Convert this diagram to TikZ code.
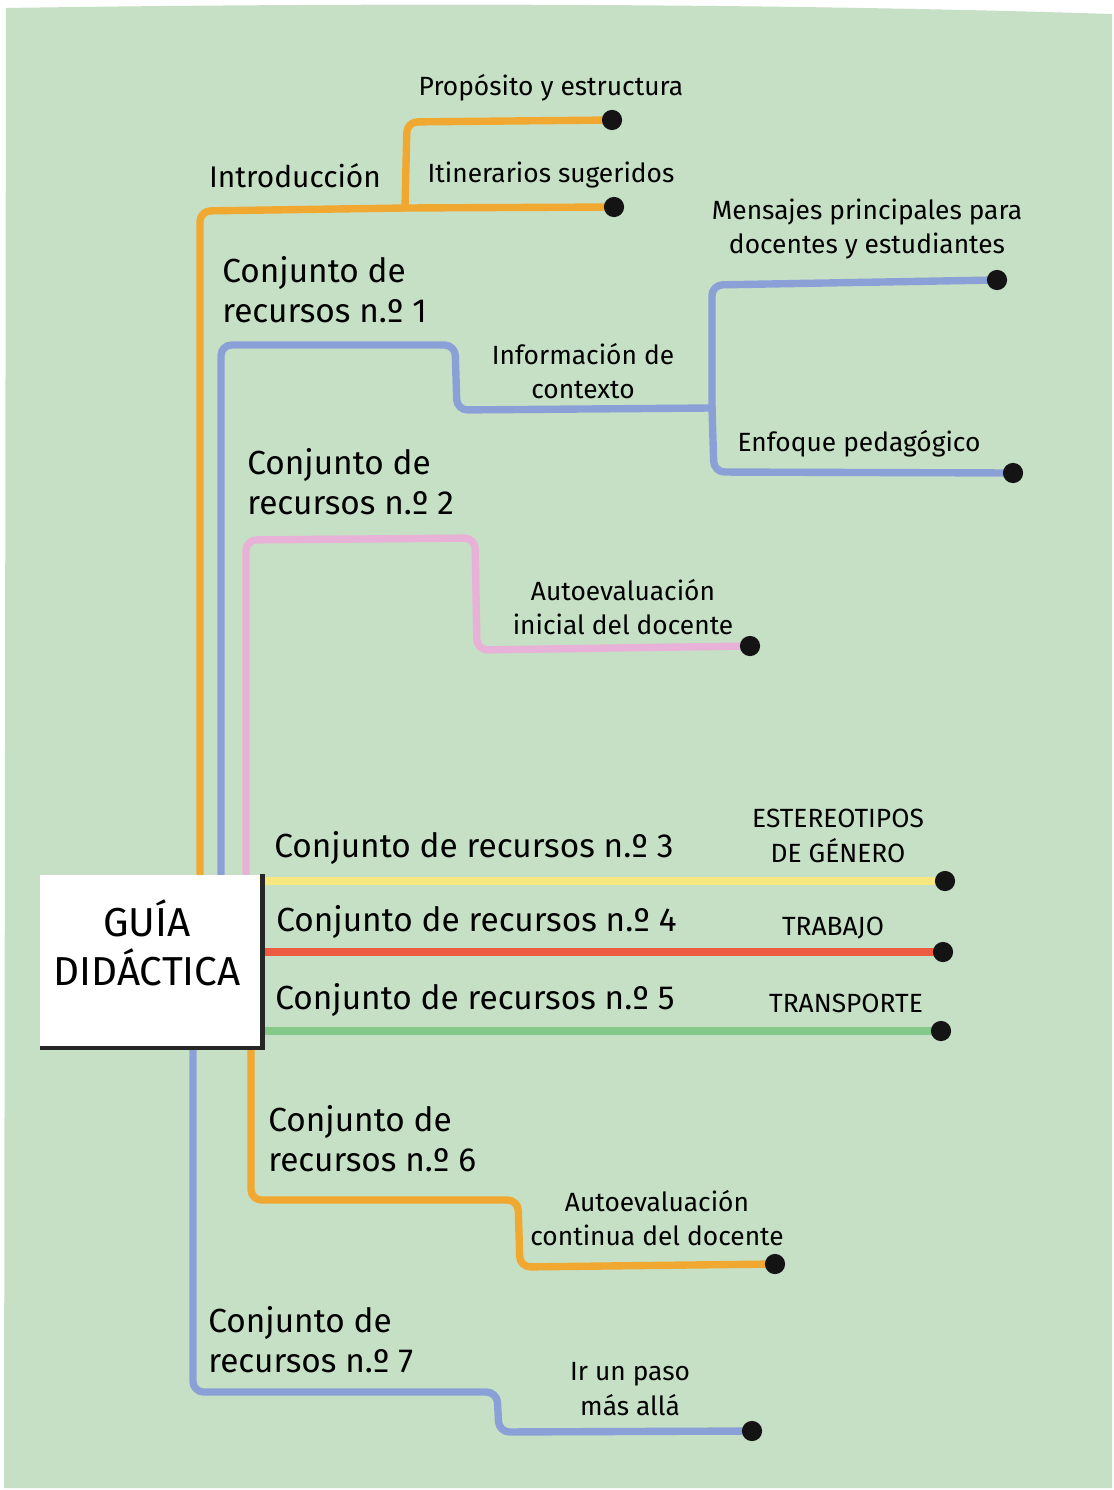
\documentclass[tikz,border=0pt]{standalone}
\usepackage{fontspec}
\setmainfont{Fira Sans}
\usepackage{tikz}
\usetikzlibrary{positioning}

\definecolor{sheetgreen}{HTML}{C6E0C5}
\definecolor{penorange}{HTML}{F0A830}
\definecolor{penblue}{HTML}{8CA0D8}
\definecolor{penpink}{HTML}{E8B2D8}
\definecolor{penyellow}{HTML}{F6E87E}
\definecolor{penred}{HTML}{EE5A40}
\definecolor{pengreen}{HTML}{84C88A}

\pgfdeclarelayer{paper}
\pgfdeclarelayer{lines}
\pgfsetlayers{paper,lines,main}

\tikzset{
  pen/.style={line width=4.2pt, line cap=round, line join=round, rounded corners=6pt},
  dot/.style={circle, fill=black!92, inner sep=0pt, minimum size=11.5pt},
  lab/.style={font=\fontsize{15}{19.5}\selectfont, align=center, inner sep=0pt},
  biglab/.style={font=\fontsize{19}{22.8}\selectfont, align=left, inner sep=0pt, anchor=west},
  guiabox/.style={fill=white, minimum width=4.44cm, minimum height=3.46cm, inner sep=0pt}
}

\begin{document}
\begin{tikzpicture}[x=0.02cm,y=-0.02cm]
\useasboundingbox (0,0) rectangle (1114,1490);

% paper sheet
\begin{pgfonlayer}{paper}
\fill[white] (0,0) rectangle (1114,1490);
\fill[sheetgreen] (6,8) .. controls (400,2) and (800,4) .. (1112,14) -- (1112,1488) -- (4,1488) -- cycle;
\end{pgfonlayer}

% central box
\node[guiabox] (guia) at (151,961) {};
\draw[line width=2.5pt, black!85] (guia.north east) -- (guia.south east) -- (guia.south west);
\node[font=\fontsize{23}{28}\selectfont, align=center, inner sep=0pt] (guiatext) at (147,943) {GUÍA\\DIDÁCTICA};

% end dots
\node[dot] (dprop) at (612,120) {};
\node[dot] (ditin) at (614,207) {};
\node[dot] (dmens) at (997,280) {};
\node[dot] (denf) at (1013,473) {};
\node[dot] (dautoi) at (750,646) {};
\node[dot] (dester) at (945,881) {};
\node[dot] (dtrab) at (943,952) {};
\node[dot] (dtransp) at (941,1031) {};
\node[dot] (dautoc) at (775,1264) {};
\node[dot] (dpaso) at (752,1431) {};

% corners
\coordinate (o1) at (200,211);
\coordinate (o2) at (405,208);
\coordinate (o3) at (407,122);
\coordinate (b1) at (221,345);
\coordinate (b2) at (455,345);
\coordinate (b3) at (457,410);
\coordinate (b4) at (712,408);
\coordinate (b5) at (712,285);
\coordinate (b6) at (714,472);
\coordinate (p1) at (246,540);
\coordinate (p2) at (475,538);
\coordinate (p3) at (477,650);
\coordinate (q1) at (251,1200);
\coordinate (q2) at (518,1200);
\coordinate (q3) at (520,1267);
\coordinate (r1) at (193,1392);
\coordinate (r2) at (497,1392);
\coordinate (r3) at (499,1432);

% connectors
\begin{pgfonlayer}{lines}
\draw[pen,penorange] (guia.north -| o1) -- (o1) -- (o2) -- (ditin.center);
\draw[pen,penorange] (o2) -- (o3) -- (dprop.center);
\draw[pen,penblue] (guia.north -| b1) -- (b1) -- (b2) -- (b3) -- (b4);
\draw[pen,penblue] (b4) -- (b5) -- (dmens.center);
\draw[pen,penblue] (b4) -- (b6) -- (denf.center);
\draw[pen,penpink] (guia.north -| p1) -- (p1) -- (p2) -- (p3) -- (dautoi.center);
\draw[pen,penyellow] (guia.east |- dester) -- (dester.center);
\draw[pen,penred] (guia.east |- dtrab) -- (dtrab.center);
\draw[pen,pengreen] (guia.east |- dtransp) -- (dtransp.center);
\draw[pen,penorange] (guia.south -| q1) -- (q1) -- (q2) -- (q3) -- (dautoc.center);
\draw[pen,penblue] (guia.south -| r1) -- (r1) -- (r2) -- (r3) -- (dpaso.center);
\end{pgfonlayer}

% labels
\node[lab] (prop) at (551,88) {Propósito y estructura};
\node[font=\fontsize{17}{21}\selectfont, inner sep=0pt] (intro) at (295,176) {Introducción};
\node[lab] (itin) at (551,175) {Itinerarios sugeridos};
\node[lab] (mens) at (867,229) {Mensajes principales para\\docentes y estudiantes};
\node[biglab] (cr1) at (222,290) {Conjunto de\\recursos n.º 1};
\node[lab] (info) at (583,371) {Información de\\contexto};
\node[lab] (enf) at (859,444) {Enfoque pedagógico};
\node[biglab] (cr2) at (247,482) {Conjunto de\\recursos n.º 2};
\node[lab] (autoi) at (623,607) {Autoevaluación\\inicial del docente};
\node[biglab] (cr3) at (274,848) {Conjunto de recursos n.º 3};
\node[lab] (ester) at (838,836) {ESTEREOTIPOS\\DE GÉNERO};
\node[biglab] (cr4) at (276,922) {Conjunto de recursos n.º 4};
\node[lab] (trab) at (833,928) {TRABAJO};
\node[biglab] (cr5) at (275,1000) {Conjunto de recursos n.º 5};
\node[lab] (transp) at (846,1003) {TRANSPORTE};
\node[biglab] (cr6) at (268,1139) {Conjunto de\\recursos n.º 6};
\node[lab] (autoc) at (657,1218) {Autoevaluación\\continua del docente};
\node[biglab] (cr7) at (208,1340) {Conjunto de\\recursos n.º 7};
\node[lab] (paso) at (630,1389) {Ir un paso\\más allá};
\end{tikzpicture}
\end{document}
